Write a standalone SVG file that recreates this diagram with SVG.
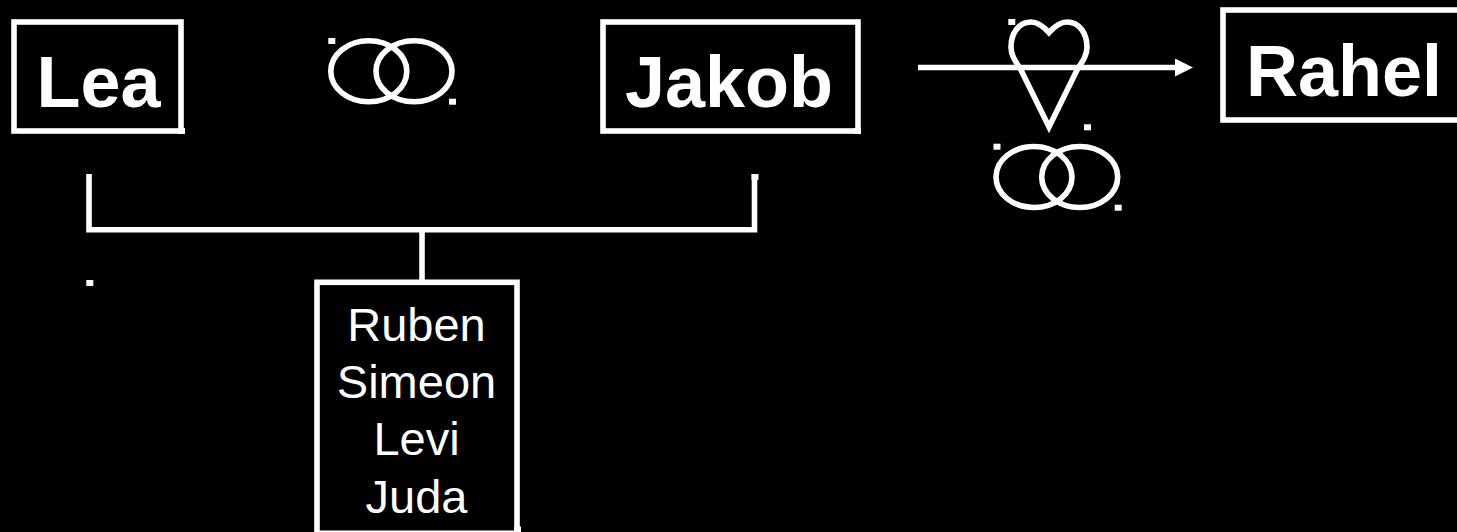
<svg xmlns="http://www.w3.org/2000/svg" width="1457" height="532" viewBox="0 0 1457 532">
<style>
.b{fill:#000;stroke:#fff;stroke-width:5.6}
.l{fill:none;stroke:#fff;stroke-width:5.6}
.r{fill:none;stroke:#fff;stroke-width:5.6}
.d{fill:#fff}
.t{font-family:"Liberation Sans",Arial,sans-serif;fill:#fff;text-anchor:middle}
.h{font-size:72px;font-weight:bold}
.n{font-size:47px}
</style>
<defs>
<marker id="arrow" markerUnits="userSpaceOnUse" markerWidth="18" markerHeight="18" refX="0" refY="9" orient="auto"><path d="M0,0L18,9L0,18Z" fill="#fff"/></marker>
</defs>
<rect width="1457" height="532" fill="#000"/>
<g id="connectors">
<path class="l" d="M89,174V229.800H754.500V174"/>
<path class="l" d="M422,229.800V282"/>
<path class="l" d="M918,67.500H1175" marker-end="url(#arrow)"/>
<rect class="d" x="751.500" y="174" width="7" height="6"/>
</g>
<g id="lea"><rect class="b" x="14" y="22" width="167" height="109"/><rect class="d" x="178" y="128" width="7" height="6"/><text class="t h" x="98.500" y="106.500">Lea</text></g>
<g id="jakob"><rect class="b" x="603" y="22" width="255" height="109"/><rect class="d" x="854" y="128" width="7" height="6"/><text class="t h" x="729" y="106.500">Jakob</text></g>
<g id="rahel"><rect class="b" x="1223" y="10" width="240" height="110"/><text class="t h" x="1344" y="95.500">Rahel</text></g>
<g id="children"><rect class="b" x="317" y="282.300" width="200" height="251"/><rect class="d" x="514" y="526.500" width="7" height="6"/>
<text class="t n" x="416.500" y="341">Ruben</text><text class="t n" x="416.500" y="398">Simeon</text><text class="t n" x="416.500" y="455">Levi</text><text class="t n" x="416.500" y="513">Juda</text></g>
<g id="rings-top"><ellipse class="r" cx="368.800" cy="71.300" rx="38" ry="30.500"/><ellipse class="r" cx="414" cy="71.300" rx="38" ry="30.500"/><rect class="d" x="328.300" y="38" width="7" height="6"/><rect class="d" x="449" y="98.700" width="7" height="6"/></g>
<g id="heart"><path class="r" d="M1049,32.500C1044,27 1038,22 1031,22C1019,22 1011,33 1011,47C1011,56 1016,62 1021,70L1049,127L1077,70C1082,62 1087,56 1087,47C1087,33 1079,22 1067,22C1060,22 1054,27 1049,32.500Z"/><rect class="d" x="1008.300" y="19" width="7" height="6"/><rect class="d" x="1084" y="124.300" width="7" height="6"/></g>
<g id="rings-bottom"><ellipse class="r" cx="1034" cy="177" rx="38" ry="30.500"/><ellipse class="r" cx="1079.700" cy="177" rx="38" ry="30.500"/><rect class="d" x="993.500" y="143.700" width="7" height="6"/><rect class="d" x="1114.700" y="204.700" width="7" height="6"/></g>
<g id="dot"><rect class="d" x="86.300" y="280" width="7" height="6"/></g>
</svg>
